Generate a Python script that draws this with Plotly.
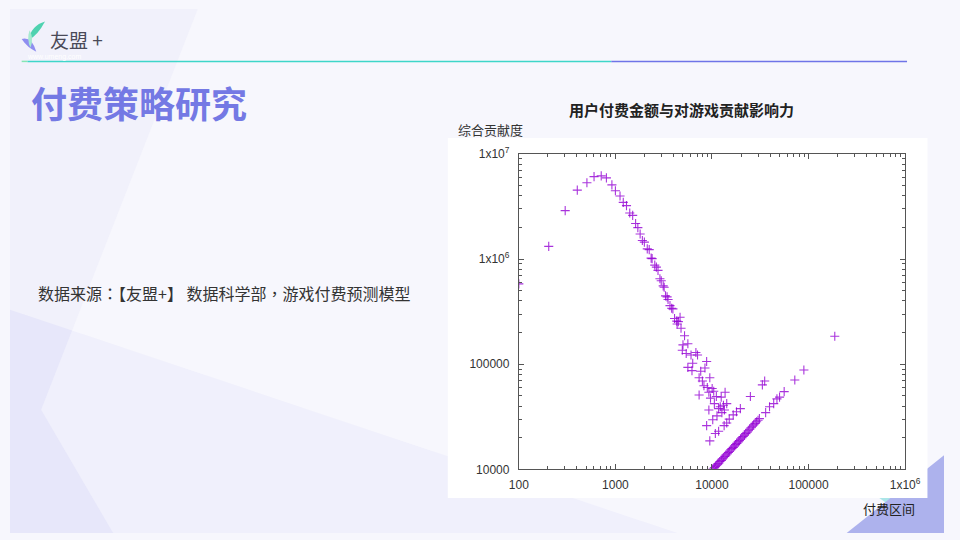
import plotly.graph_objects as go

# ---------------- data ----------------
# upper branch: pay amount vs contribution
curve_x = [100, 204, 302, 403, 507, 601, 713, 807, 920, 1000, 1117, 1206, 1303, 1408, 1510,
           1619, 1708, 1804, 1902, 1995, 2138, 2240, 2344, 2400, 2557, 2656, 2762, 2891, 2983,
           3126, 3199, 3304, 3430, 3509, 3675, 3823, 3940, 4096, 4318, 4487, 4673, 4357, 4782]
curve_y = [581000, 1320000, 2890000, 4520000, 5320000, 6080000, 6180000, 5920000, 5070000,
           4460000, 3980000, 3460000, 3220000, 2740000, 2600000, 2180000, 1990000, 1730000,
           1500000, 1450000, 1250000, 1230000, 1020000, 1010000, 875000, 838000, 781000,
           650000, 623000, 556000, 540000, 447000, 437000, 413000, 361000, 341000, 336000,
           272000, 257000, 254000, 280000, 241000, 220000]

# scattered cluster around 5000-15000
cluster_x = [5200, 5010, 5630, 4930, 5410, 6070, 6820, 7090, 8810, 5630, 6320, 6210, 7650,
             8460, 9500, 7360, 7960, 8260, 8950, 10050, 7360, 9290, 10430, 9660, 11100, 12470,
             13680, 9290, 10590, 11720, 12190, 13150, 14220, 8810, 10190, 11270, 12670, 13460,
             9500, 10840, 11720, 13370, 14220, 15100, 16600, 17950, 19680, 25000, 33270, 35150]
cluster_y = [186600, 153000, 156600, 135900, 126700, 122300, 129400, 122300, 106200, 93300,
             102300, 86900, 85900, 92100, 74500, 74500, 69300, 62400, 60200, 58900, 51000,
             54100, 55300, 47600, 49400, 48700, 54100, 36700, 42200, 37900, 39400, 40800, 42200,
             26100, 29700, 32300, 34700, 36700, 18700, 22000, 23100, 26100, 27600, 30100, 33000,
             35400, 37900, 49400, 63700, 69300]

# lower diagonal branch (contribution roughly equal to payment)
line_x = [10000, 10300, 10600, 10900, 11200, 11500, 11800, 12100, 12500, 12800, 13200, 13600,
          14000, 14400, 14800, 15200, 15700, 16100, 16600, 17100, 17600, 18100, 18700, 19200,
          19800, 20400, 21000, 21700, 22400, 23100, 23800, 24600, 25400, 26200, 27000, 28000,
          29000, 30000, 31000, 35970, 39450, 43600, 47100, 50100, 55950, 72100, 89500, 187000]
line_y = [10000, 10100, 10400, 10700, 11000, 11300, 11500, 11900, 12200, 12600, 12900, 13300,
          13700, 14100, 14500, 14900, 15400, 15800, 16200, 16700, 17200, 17700, 18300, 18800,
          19400, 20000, 20600, 21200, 21900, 22600, 23300, 24100, 24900, 25700, 26500, 27400,
          28400, 29400, 30400, 34700, 39400, 42200, 46900, 48700, 54900, 70900, 88300, 184600]

x_tickvals = [100, 1000, 10000, 100000, 1000000]
x_ticktext = ["100", "1000", "10000", "100000", "1x10<sup>6</sup>"]
y_tickvals = [10000, 100000, 1000000, 10000000]
y_ticktext = ["10000", "100000", "1x10<sup>6</sup>", "1x10<sup>7</sup>"]

page_title = "付费策略研究"
chart_title = "用户付费金额与对游戏贡献影响力"
y_label = "综合贡献度"
x_label = "付费区间"
source_text = "数据来源：【友盟+】 数据科学部，游戏付费预测模型"

# ---------------- helpers ----------------
W, H = 960, 540


def px(x):
    return x / W


def py(y):
    return 1 - y / H


def path(points):
    s = "M " + " L ".join(f"{px(a):.5f},{py(b):.5f}" for a, b in points) + " Z"
    return s


minor_x = [m * 10 ** e for e in range(2, 6) for m in range(2, 10)]
minor_y = [m * 10 ** e for e in range(4, 7) for m in range(2, 10)]

fig = go.Figure()
fig.add_trace(go.Scatter(
    x=curve_x + cluster_x + line_x,
    y=curve_y + cluster_y + line_y,
    mode="markers",
    marker=dict(symbol="cross-thin", size=6.5,
                line=dict(width=1.1, color="rgba(148,0,211,0.8)"),
                color="rgba(148,0,211,0.8)"),
    hoverinfo="x+y",
    showlegend=False,
))

shapes = []
# background polygons
shapes.append(dict(type="path", xref="paper", yref="paper", layer="below",
                   path=path([(0, 0), (193, 0), (32, 413), (106, 540), (0, 540)]),
                   fillcolor="#f1f1fb", line=dict(width=0)))
shapes.append(dict(type="path", xref="paper", yref="paper", layer="below",
                   path=path([(0, 310), (686, 540), (0, 540)]),
                   fillcolor="#f0f0fc", line=dict(width=0)))
shapes.append(dict(type="path", xref="paper", yref="paper", layer="below",
                   path=path([(0, 310), (63.8, 331.4), (32, 413), (106, 540), (0, 540)]),
                   fillcolor="#e7e7fa", line=dict(width=0)))
shapes.append(dict(type="path", xref="paper", yref="paper", layer="below",
                   path=path([(888, 500), (935, 500), (922, 524)]),
                   fillcolor="rgba(110,215,215,0.55)", line=dict(width=0)))
shapes.append(dict(type="path", xref="paper", yref="paper", layer="below",
                   path=path([(860, 540), (960, 460), (960, 540)]),
                   fillcolor="#adb2ed", line=dict(width=0)))
# header rule
shapes.append(dict(type="line", xref="paper", yref="paper", layer="below",
                   x0=px(12), x1=px(18), y0=py(54), y1=py(54),
                   line=dict(color="#86e6b4", width=1.5)))
shapes.append(dict(type="line", xref="paper", yref="paper", layer="below",
                   x0=px(18), x1=px(618), y0=py(54), y1=py(54),
                   line=dict(color="#3ed6c9", width=1.5)))
shapes.append(dict(type="line", xref="paper", yref="paper", layer="below",
                   x0=px(618), x1=px(922), y0=py(54), y1=py(54),
                   line=dict(color="#6f74e8", width=1.5)))
# logo icon
shapes.append(dict(type="path", xref="paper", yref="paper", layer="below",
                   path="M %f,%f Q %f,%f %f,%f Q %f,%f %f,%f Z" % (
                       px(36), py(13), px(22), py(17), px(19), py(32), px(28), py(28), px(36), py(13)),
                   fillcolor="#4fd2b0", line=dict(width=0)))
shapes.append(dict(type="path", xref="paper", yref="paper", layer="below",
                   path="M %f,%f Q %f,%f %f,%f Q %f,%f %f,%f Z" % (
                       px(12), py(31), px(22), py(28), px(27), py(44), px(18), py(40), px(12), py(31)),
                   fillcolor="#8f8ef0", line=dict(width=0)))
shapes.append(dict(type="path", xref="paper", yref="paper", layer="below",
                   path="M %f,%f Q %f,%f %f,%f Q %f,%f %f,%f Z" % (
                       px(20), py(22), px(25), py(30), px(21), py(40), px(17), py(32), px(20), py(22)),
                   fillcolor="#a6ead0", line=dict(width=0)))
# white chart panel
shapes.append(dict(type="rect", xref="paper", yref="paper", layer="below",
                   x0=px(450), x1=px(943), y0=py(504), y1=py(133),
                   fillcolor="white", line=dict(width=0)))

cjk = "Noto Sans CJK SC"
annotations = [
    dict(text="<b>" + page_title + "</b>", x=px(20), y=py(96), xanchor="left", yanchor="middle",
         font=dict(family=cjk, size=36, color="#7479e4")),
    dict(text="友盟 +", x=px(39), y=py(31), xanchor="left", yanchor="middle",
         font=dict(family=cjk, size=19, color="#4a4a58")),
    dict(text="www.umeng.com", x=px(15), y=py(49), xanchor="left", yanchor="middle",
         font=dict(family="Liberation Sans", size=7, color="white")),
    dict(text=source_text, x=px(27), y=py(293), xanchor="left", yanchor="middle",
         font=dict(family="Noto Sans CJK TC", size=16, color="#333333")),
    dict(text="<b>" + chart_title + "</b>", x=px(690), y=py(104), xanchor="center", yanchor="middle",
         font=dict(family=cjk, size=15, color="#222222")),
    dict(text=y_label, x=px(458), y=py(124), xanchor="left", yanchor="middle",
         font=dict(family=cjk, size=13, color="#333333")),
    dict(text=x_label, x=px(903), y=py(515), xanchor="center", yanchor="middle",
         font=dict(family=cjk, size=13, color="#222222")),
]
for a in annotations:
    a.update(xref="paper", yref="paper", showarrow=False)

axis_common = dict(
    showgrid=False, zeroline=False, showline=True, linecolor="#555555", linewidth=1,
    mirror="allticks", ticks="inside", ticklen=5, tickcolor="#555555", tickwidth=1,
    tickfont=dict(family="Liberation Sans", size=12, color="#333333"),
)

fig.update_layout(
    width=W, height=H,
    margin=dict(l=0, r=0, t=0, b=0),
    paper_bgcolor="#f7f7fd",
    plot_bgcolor="rgba(0,0,0,0)",
    shapes=shapes,
    annotations=annotations,
    xaxis=dict(type="log", range=[2, 6], domain=[px(523), px(920)],
               tickvals=x_tickvals, ticktext=x_ticktext, ticklabelstandoff=4,
               minor=dict(tickvals=minor_x, ticks="inside", ticklen=3, tickcolor="#555555"),
               **axis_common),
    yaxis=dict(type="log", range=[4, 7], domain=[py(474.5), py(149.3)],
               tickvals=y_tickvals, ticktext=y_ticktext, ticklabelstandoff=6,
               minor=dict(tickvals=minor_y, ticks="inside", ticklen=3, tickcolor="#555555"),
               **axis_common),
)

fix_page = (
    "var s=document.documentElement.style, b=document.body.style;"
    "s.margin='0';s.padding='0';s.overflow='hidden';s.width='960px';s.height='540px';"
    "b.margin='0';b.padding='0';b.overflow='hidden';b.width='960px';b.height='540px';"
    "var d=document.getElementsByClassName('plotly-graph-div')[0];"
    "d.style.position='fixed';d.style.left='0px';d.style.top='0px';"
)

fig.write_html("out.html", config={"displayModeBar": False}, post_script=fix_page)
